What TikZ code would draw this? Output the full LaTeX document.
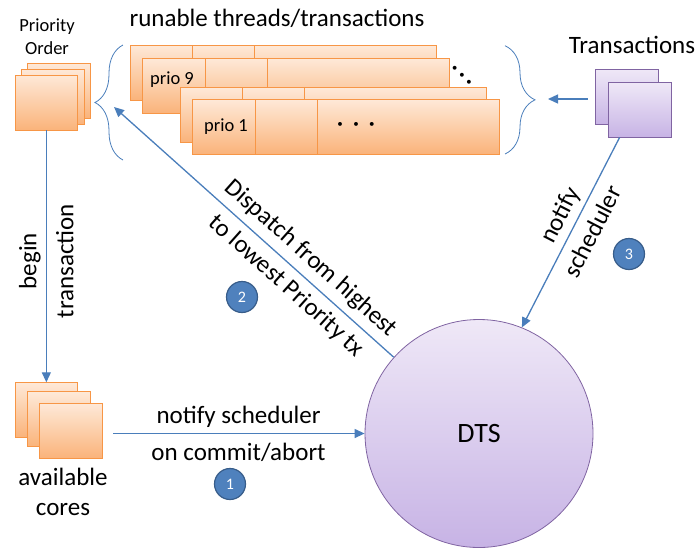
\documentclass[tikz,border=0pt]{standalone}
\usepackage{fontspec}
\setmainfont{Carlito}
\usetikzlibrary{positioning,arrows.meta,decorations.pathreplacing}
\definecolor{otop}{HTML}{FEE9D8}
\definecolor{obot}{HTML}{FAB37A}
\definecolor{oline}{HTML}{F79646}
\definecolor{ptop}{HTML}{EFE8F7}
\definecolor{pbot}{HTML}{C7B3E5}
\definecolor{pline}{HTML}{8064A2}
\definecolor{conn}{HTML}{4A7EBB}
\definecolor{bfill}{HTML}{4F81BD}
\definecolor{bdark}{HTML}{385D8A}
\tikzset{l/.style={font=\fontsize{25}{37}\selectfont,align=center}}
\tikzset{m/.style={font=\fontsize{18.5}{23}\selectfont,align=center}}
\tikzset{sq/.style={draw=oline,line width=0.8pt,top color=otop,bottom color=obot,minimum height=55pt,inner sep=0pt,outer sep=0pt,anchor=north west}}
\tikzset{psq/.style={draw=pline,line width=0.8pt,top color=ptop,bottom color=pbot,minimum width=62.7pt,minimum height=55pt,inner sep=0pt,outer sep=0pt,anchor=north west}}
\tikzset{flow/.style={draw=conn,line width=1.3pt,-{Triangle[length=10pt,width=9pt]}}}
\tikzset{brc/.style={draw=conn,line width=0.8pt,decorate,decoration={brace,amplitude=#1}}}
\tikzset{badge/.style={circle,draw=bdark,line width=1.2pt,fill=bfill,text=white,minimum size=31pt,inner sep=0pt,font=\fontsize{16}{16}\selectfont}}
\tikzset{dotrow/.style={inner sep=0pt,font=\fontsize{11}{11}\selectfont}}

\begin{document}
\begin{tikzpicture}[x=1pt,y=-1pt]
  \useasboundingbox (0,0) rectangle (698,550);
  % priority order
  \node[m] (ordertxt) at (47,37) {Priority\\Order};
  \node[sq,minimum width=62.7pt] (o1) at (27.3,63.3) {};
  \node[sq,minimum width=62.7pt] (o2) at (21.7,69.3) {};
  \node[sq,minimum width=62.7pt] (o3) at (15,75) {};
  % available cores
  \node[sq,minimum width=62.7pt] (c1) at (15,382.3) {};
  \node[sq,minimum width=62.7pt] (c2) at (27.3,391.7) {};
  \node[sq,minimum width=62.7pt] (c3) at (39.3,403.3) {};
  \node[l,font=\fontsize{25}{30}\selectfont] (corestxt) at (63,492) {available\\cores};
  % runable threads
  \node[l] (runtxt) at (277,18) {runable threads/transactions};
  \node[sq,minimum width=62.7pt] (a1) at (130,45) {};
  \node[sq,minimum width=61.6pt,right=0pt of a1] (a2) {};
  \node[sq,minimum width=182.4pt,right=0pt of a2] (a3) {};
  \node[sq,minimum width=62.7pt] (b1) at (142.7,58.3) {};
  \node[sq,minimum width=61.6pt,right=0pt of b1] (b2) {};
  \node[sq,minimum width=182.4pt,right=0pt of b2] (b3) {};
  \node[m] (prio9) at (172,80) {prio 9};
  \node[sq,minimum width=62.7pt] (c1r) at (180,87.3) {};
  \node[sq,minimum width=61.6pt,right=0pt of c1r] (c2r) {};
  \node[sq,minimum width=182.4pt,right=0pt of c2r] (c3r) {};
  \node[sq,minimum width=62.7pt] (d1) at (192.7,99.3) {};
  \node[sq,minimum width=61.6pt,right=0pt of d1] (d2) {};
  \node[sq,minimum width=182.4pt,right=0pt of d2] (d3) {};
  \node[m] (prio1) at (226,127) {prio 1};
  \node[dotrow] (hdots) at (356,125) {\textbullet\hspace{10.5pt}\textbullet\hspace{10.5pt}\textbullet};
  \node[dotrow,rotate=-45] (ddots) at (461.5,76) {\textbullet\hspace{4.5pt}\textbullet\hspace{4.5pt}\textbullet};
  % braces
  \coordinate (lbtop) at (123,45);
  \coordinate (lbbot) at (123,160);
  \draw[brc=28] (lbbot) -- (lbtop);
  \coordinate (rbtop) at (505,45.7);
  \coordinate (rbbot) at (505,154);
  \draw[brc=30] (rbtop) -- (rbbot);
  % transactions
  \node[l] (txtxt) at (632,45) {Transactions};
  \node[psq] (t1) at (595.7,69.3) {};
  \node[psq] (t2) at (608.3,82.3) {};
  % scheduler
  \node[circle,draw=pline,line width=0.8pt,top color=ptop,bottom color=pbot,minimum size=228pt,inner sep=0pt,font=\fontsize{28}{28}\selectfont] (dts) at (479,433.5) {DTS};
  % arrows
  \coordinate (lb) at (114,107);
  \coordinate (rb) at (548,99);
  \draw[flow] (o3.south) -- (c1.north) node[l,rotate=90,pos=0.52] {begin\\transaction};
  \draw[flow,shorten <=11pt] (c3.east |- dts.west) -- (dts.west) node[l,pos=0.52] {notify scheduler\\on commit/abort};
  \draw[flow] (dts) -- (lb) node[l,sloped,pos=0.34] {Dispatch from highest\\to lowest Priority tx};
  \draw[flow,shorten <=8pt] (t1.west |- rb) -- (rb);
  \draw[flow] (t2.234) -- (dts.68) node[l,sloped,pos=0.45] {notify\\scheduler};
  % steps
  \node[badge] (one) at (230,484) {1};
  \node[badge] (two) at (242,297) {2};
  \node[badge] (three) at (629,254) {3};
\end{tikzpicture}
\end{document}
